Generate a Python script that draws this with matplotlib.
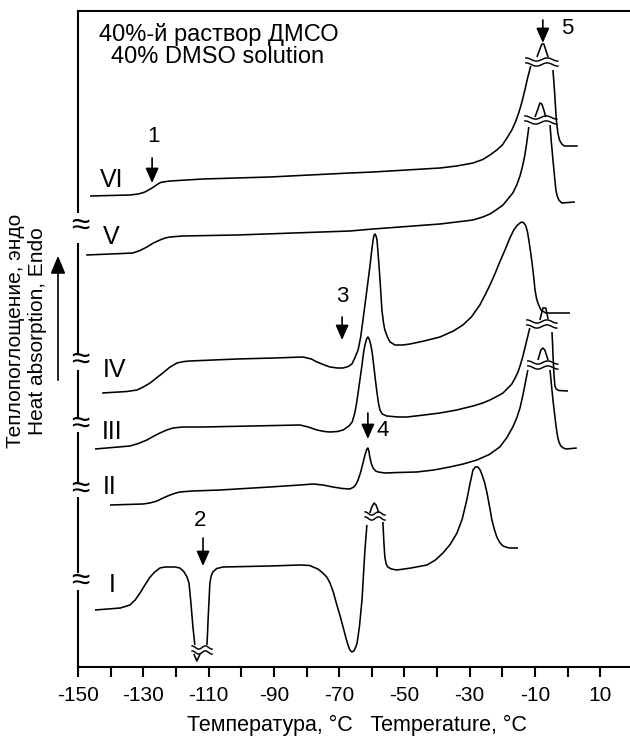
import numpy as np
import matplotlib.pyplot as plt
from matplotlib.patches import FancyArrowPatch

plt.rcParams['font.family'] = ['Liberation Sans', 'DejaVu Sans']
plt.rcParams['axes.unicode_minus'] = False

# -----------------------------
# DSC curves, 40% DMSO (T in degC, signal in arbitrary units)
# -----------------------------
T_VI = [-146.3, -140.2, -134.1, -131.6, -130.4, -129.5, -128.4, -127.3, -126.4, -125.5,
        -124.7, -124.0, -122.5, -121.8, -111.7, -91.2, -66.7, -59.6, -39.1, -34.0,
        -29.0, -26.0, -23.8, -21.7, -20.0, -18.6, -17.1, -16.0, -15.0, -14.0,
        -13.1, -12.2, -11.3]
y_VI = [471, 471.5, 472, 473, 474, 475, 477, 479, 481, 483,
        484.5, 485, 485.7, 486, 488, 490, 494, 495, 499, 501,
        504, 507.5, 512, 517, 522, 529, 537, 545, 554, 565,
        577, 590, 601]
T_VI_r = [-4.5, -4.0, -3.5, -3.0, -2.5, -1.8, -1.0, 0.0, 3.1]
y_VI_r = [597, 575, 548, 534, 527, 523, 521, 521, 521]
T_VI_tip = [-9.4, -8.5, -7.9, -7.3, -6.7, -6.0]
y_VI_tip = [610, 618, 623, 623, 617, 610]

T_V = [-147.5, -140.0, -133.2, -131.0, -128.9, -126.9, -124.9, -123.3, -121.8, -118.0,
       -101.3, -66.7, -59.6, -39.1, -34.0, -29.0, -26.0, -23.8, -21.5, -19.8,
       -18.3, -16.8, -15.6, -14.6, -13.8, -13.1, -12.5, -11.9]
y_V = [412, 413, 414, 416.5, 420, 424, 427, 429, 430, 431,
       432, 436, 438, 443, 445, 447, 450, 453, 458, 462,
       468, 474, 482, 491, 501, 512, 525, 540]
T_V_r = [-5.4, -5.0, -4.5, -4.0, -3.6, -3.2, -2.7, -1.8, 2.2]
y_V_r = [542, 525, 507, 490, 477, 471, 467, 464, 465]
T_V_tip = [-10.0, -9.1, -8.5, -7.9, -7.3, -6.7]
y_V_tip = [550, 558, 564, 563, 557, 550]

T_IV = [-142.6, -135.0, -131.9, -130.0, -127.9, -126.0, -124.0, -122.0, -119.7, -117.5,
        -115.7, -101.3, -90.0, -81.1, -78.5, -76.8, -74.5, -72.8, -70.5, -68.8,
        -67.2, -66.1, -65.2, -64.2, -63.4, -62.7, -62.1, -61.5, -60.6, -60.0,
        -59.6, -59.3, -59.0, -58.7, -58.4, -57.8, -57.3, -56.9, -56.4, -56.0,
        -55.2, -54.4, -52.9, -50.5, -48.3, -44.0, -39.1, -35.0, -32.1, -29.5,
        -26.9, -25.3, -23.8, -22.3, -20.8, -19.2, -17.7, -16.5, -15.5, -14.6,
        -14.0, -13.4, -12.8, -12.3, -11.9, -11.4, -10.9, -10.4, -10.0, -9.5,
        -9.1, -8.6, -8.2, -6.7, 0.7]
y_IV = [274, 275.5, 277, 280, 284, 289, 294, 299.5, 304, 305.5,
        306, 308, 309, 310, 308, 305, 302, 300, 299, 299,
        300.5, 303, 309, 317, 330, 347, 362, 377, 400, 417,
        427, 432, 433, 431, 427, 402, 378, 357, 344, 337,
        330, 325, 322, 322, 323, 326, 330, 336, 342, 350,
        362, 372, 382, 393, 405, 417, 429, 437, 441.5, 444,
        445, 444, 441, 435, 427, 416, 404, 390, 377, 368,
        364, 360, 357, 354, 354]

T_III = [-144.8, -134.1, -131.5, -128.9, -127.0, -124.9, -122.8, -120.9, -118.0, -111.7,
         -82.0, -79.5, -76.8, -74.5, -72.8, -70.5, -68.8, -67.0, -66.0, -65.2,
         -64.7, -64.2, -63.6, -63.0, -62.5, -62.1, -61.6, -61.2, -60.8, -60.3,
         -59.9, -59.6, -59.0, -58.4, -57.9, -57.5, -56.8, -55.4, -52.0, -49.2,
         -44.0, -39.1, -34.0, -29.0, -26.0, -23.8, -21.7, -19.8, -18.3, -17.1,
         -16.1, -15.2, -14.4, -13.7, -13.1, -12.5, -11.6]
y_III = [218, 221, 223.5, 227, 230.5, 234, 237, 239, 240, 240,
         242, 240, 237, 235.5, 235, 235.5, 237, 241, 245, 254,
         263, 274, 288, 302, 315, 322, 328, 330, 328, 322,
         315, 307, 290, 274, 263, 257, 253, 251, 250, 250,
         252, 254, 257, 261, 264, 267, 270.5, 274, 279, 283,
         289, 295, 303, 311, 319, 327, 339]
T_III_r = [-4.8, -4.6, -4.5, -4.3, -4.2, -3.9, -3.5, -2.7, 0.1]
y_III_r = [335, 322, 312, 300, 292, 281, 278, 276.5, 276]
T_III_tip = [-8.5, -7.6, -6.7, -6.0]
y_III_tip = [347, 359, 359, 348]

T_II = [-140.2, -130.1, -128.0, -125.8, -123.6, -121.8, -120.0, -118.8, -115.0, -106.5,
        -91.2, -82.0, -78.0, -75.0, -71.9, -69.0, -66.7, -65.5, -64.8, -64.2,
        -63.4, -62.7, -62.0, -61.5, -61.2, -60.9, -60.6, -60.2, -59.6, -58.8,
        -58.0, -56.0, -52.0, -46.2, -41.0, -36.1, -32.0, -27.8, -24.0, -20.8,
        -18.7, -16.8, -15.6, -14.6, -13.7, -12.8, -12.2]
y_II = [162, 163, 164, 166, 169.5, 172, 174, 175, 176, 177,
        180, 182, 183, 182, 180, 178.5, 178, 180, 183, 187,
        195, 204, 213, 218, 219, 216, 210, 204, 199, 196,
        195, 194, 194.5, 195, 197, 200, 203, 207, 212.5, 220,
        229, 240, 249, 259, 272, 287, 297]
T_II_r = [-5.4, -4.9, -4.5, -4.0, -3.6, -3.3, -3.0, -2.6, -2.1, -1.3, -0.5, 2.8]
y_II_r = [297, 280, 267, 253, 242, 235, 229, 224.5, 221, 219, 218, 219]
T_II_tip = [-9.1, -8.2, -7.6, -7.0, -6.0]
y_II_tip = [307, 317, 319, 317, 307]

T_I = [-144.8, -137.0, -134.1, -132.5, -131.0, -129.5, -127.9, -126.5, -124.9, -123.4,
       -121.8, -120.3, -118.8, -117.6, -116.6, -116.0, -115.7, -115.3, -114.8, -114.2]
y_I = [57, 59, 62, 67, 74, 82, 90, 95, 99, 100,
       100, 100, 99, 95.5, 90, 84, 74, 60, 40, 22]
T_I_tip1 = [-114.5, -113.6, -112.6]
y_I_tip1 = [13, 6, 13]
T_I_mid = [-110.5, -110.3, -110.2, -109.9, -109.6, -109.2, -108.7, -107.5, -105.6, -91.2,
           -82.0, -79.0, -78.0, -76.5, -75.0, -73.8, -72.8, -71.8, -70.7, -69.7,
           -68.8, -68.0, -67.3, -66.7, -66.1, -65.5, -64.9, -64.5, -63.8, -63.0,
           -62.5, -62.1, -61.5]
y_I_mid = [22, 35, 44, 64, 84, 91, 95, 98.5, 100, 101,
           102, 101.5, 100, 98, 94, 90, 84, 75, 62, 51,
           40, 30, 22, 17, 15, 16, 20, 24, 40, 67,
           95, 117, 142]
T_I_tip2 = [-60.6, -60.0, -59.3, -58.7, -57.8]
y_I_tip2 = [154, 160, 164, 162, 154]
T_I_r = [-56.6, -56.3, -56.0, -55.6, -55.1, -54.0, -52.3, -48.0, -43.1, -40.5,
         -38.2, -36.0, -33.9, -32.3, -30.9, -30.0, -29.0, -28.3, -27.5, -26.8,
         -26.2, -25.4, -24.7, -23.9, -23.2, -22.4, -21.7, -20.8, -19.8, -18.5,
         -17.7, -15.2]
y_I_r = [145, 125, 110, 103, 100, 98, 97, 99, 102, 107,
         114, 122.5, 134, 148, 167, 182, 197, 200, 200, 197,
         192, 184, 174, 160, 147, 137, 130, 124.5, 121, 119.5,
         119, 119]

# break marks on the peaks (center T, center signal)
peak_breaks = [(-7.9, 605), (-8.2, 547), (-7.9, 343), (-7.6, 302), (-112.0, 17), (-59.0, 151)]
peak_break_w = [32, 32, 30, 30, 20, 20]   # width, px

curve_names = ['VI', 'V', 'IV', 'III', 'II', 'I']
name_T = [-139.6, -139.9, -138.7, -139.6, -140.2, -139.6]
name_y = [487, 430, 297, 235, 180, 82]

# arrows: (label, T, y tail, y tip, label T, label y)
arrows = [('1', -127.3, 509, 484, -127.0, 530),
          ('2', -111.7, 129, 101, -112.6, 147),
          ('3', -69.1, 350, 327, -69.1, 370),
          ('4', -61.2, 254, 228, -56.6, 237),
          ('5', -7.6, 647, 624, -0.2, 638)]

# y-axis pieces and break marks (signal units)
spine_pieces = [(656, 454), (424, 314), (297, 250), (235, 185), (170, 94), (77, 0)]
spine_breaks = [441, 307, 243, 178, 86]

# -----------------------------
# plot
# -----------------------------
fig = plt.figure(figsize=(6.3, 7.4), dpi=100)
ax = fig.add_axes([78/630, 73/740, 552/630, 656/740])
ax.set_xlim(-150, 19.1)
ax.set_ylim(0, 656)

kw = dict(color='black', lw=1.15, solid_capstyle='butt', solid_joinstyle='round')
for T, y in [(T_VI, y_VI), (T_VI_r, y_VI_r), (T_VI_tip, y_VI_tip),
             (T_V, y_V), (T_V_r, y_V_r), (T_V_tip, y_V_tip),
             (T_IV, y_IV),
             (T_III, y_III), (T_III_r, y_III_r), (T_III_tip, y_III_tip),
             (T_II, y_II), (T_II_r, y_II_r), (T_II_tip, y_II_tip),
             (T_I, y_I), (T_I_tip1, y_I_tip1), (T_I_mid, y_I_mid),
             (T_I_tip2, y_I_tip2), (T_I_r, y_I_r)]:
    ax.plot(T, y, **kw)

# double wavy break marks
px_per_deg = 552 / 169.1
for (tc, yc), w in zip(peak_breaks, peak_break_w):
    u = np.linspace(-w / 2, w / 2, 40)
    for off in (-2.5, 2.5):
        ax.plot(tc + u / px_per_deg, yc + off + 1.6 * np.sin(2 * np.pi * u / w * 1.5),
                color='black', lw=1.05)

for name, t, y in zip(curve_names, name_T, name_y):
    ax.text(t, y, name, fontsize=18, ha='center', va='center')

for lab, t, y0, y1, lt, ly in arrows:
    ax.annotate('', xy=(t, y1), xytext=(t, y0),
                arrowprops=dict(arrowstyle='-|>,head_length=0.5,head_width=0.22',
                                color='black', lw=1.2, mutation_scale=18,
                                shrinkA=0, shrinkB=0), annotation_clip=False)
    ax.text(lt, ly, lab, fontsize=16, ha='center', va='center')

ax.text(-107.0, 633, '40%-й раствор ДМСО', fontsize=17, ha='center', va='center')
ax.text(-107.3, 610, '40% DMSO solution', fontsize=17, ha='center', va='center')

# axes frame
for s in ['left', 'right']:
    ax.spines[s].set_visible(False)
ax.spines['top'].set_linewidth(1.5)
ax.spines['bottom'].set_linewidth(1.5)
for y0, y1 in spine_pieces:
    ax.plot([-150, -150], [y0, y1], color='black', lw=1.5, clip_on=False,
            solid_capstyle='butt')
for yb in spine_breaks:
    ax.text(-149.2, yb, '≈', fontsize=24, ha='center', va='center')

ax.set_xticks(np.arange(-150, 11, 20))
ax.set_xticks(np.arange(-140, 11, 20), minor=True)
ax.set_yticks([])
ax.tick_params(axis='x', which='both', direction='out', length=7, width=1.5,
               labelsize=15, pad=7)

fig.text(357/630, 1 - 725/740, 'Температура, °C   Temperature, °C',
         fontsize=15.5, ha='center', va='center')
fig.text(27/630, 1 - 331/740, 'Теплопоглощение, эндо\nHeat absorption, Endo',
         rotation=90, fontsize=15, ha='center', va='center',
         multialignment='center', linespacing=1.2)
fig.patches.append(FancyArrowPatch(
    (58/630, 1 - 383/740), (58/630, 1 - 253/740), transform=fig.transFigure,
    arrowstyle='-|>,head_length=0.6,head_width=0.25', mutation_scale=18,
    color='black', lw=1.2))

fig.savefig('out.png', dpi=100)
